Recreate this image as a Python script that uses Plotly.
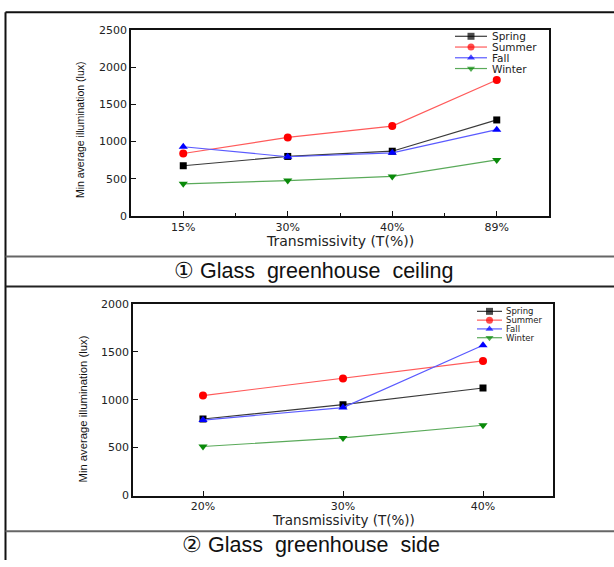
import plotly.graph_objects as go

W, H = 614, 567

# ---------------- data ----------------
seasons = ["Spring", "Summer", "Fall", "Winter"]

ceiling_cats = ["15%", "30%", "40%", "89%"]
ceiling_spring = [676, 801, 871, 1291]
ceiling_summer = [840, 1057, 1209, 1828]
ceiling_fall = [931, 797, 849, 1161]
ceiling_winter = [433, 477, 533, 754]

side_cats = ["20%", "30%", "40%"]
side_spring = [799, 949, 1123]
side_summer = [1044, 1222, 1406]
side_fall = [788, 918, 1570]
side_winter = [512, 601, 734]

y_title = "Min average illumination (lux)"
x_title = "Transmissivity (T(%))"
caption1 = "\u2460 Glass\u00a0 greenhouse\u00a0 ceiling"
caption2 = "\u2461 Glass\u00a0 greenhouse\u00a0 side"

# ---------------- styles ----------------
line_colors = ["#3a3a3a", "#ff5a5a", "#5a5aff", "#5aaa5a"]
marker_colors = ["#000000", "#ff0000", "#0000ff", "#0a8a0a"]
symbols = ["square", "circle", "triangle-up", "triangle-down"]
msizes = [7, 8, 8, 8]

TICKFONT = dict(family="DejaVu Sans", size=11, color="#222222")
NARROW = "Liberation Sans, Arial, sans-serif"


def px(x):
    return x / W


def py(y):
    return 1 - y / H


fig = go.Figure()

ceiling_vals = [ceiling_spring, ceiling_summer, ceiling_fall, ceiling_winter]
side_vals = [side_spring, side_summer, side_fall, side_winter]

for i, s in enumerate(seasons):
    fig.add_trace(go.Scatter(
        x=list(range(len(ceiling_cats))), y=ceiling_vals[i], mode="lines+markers",
        line=dict(color=line_colors[i], width=1.2),
        marker=dict(symbol=symbols[i], size=msizes[i], color=marker_colors[i]),
        xaxis="x", yaxis="y", showlegend=False, name=s))
for i, s in enumerate(seasons):
    fig.add_trace(go.Scatter(
        x=list(range(len(side_cats))), y=side_vals[i], mode="lines+markers",
        line=dict(color=line_colors[i], width=1.2),
        marker=dict(symbol=symbols[i], size=msizes[i], color=marker_colors[i]),
        xaxis="x2", yaxis="y2", showlegend=False, name=s))

# ---------------- manual legends (overlay pixel axes) ----------------
annotations = []
legends = [
    dict(x0=455, x1=487, tx=491, ys=[31, 42, 53, 64], fs=10.5, ms=6),
    dict(x0=477, x1=502, tx=505, ys=[312.5, 321.5, 330.5, 339.5], fs=8.5, ms=6),
]
for lg in legends:
    for i, s in enumerate(seasons):
        y = lg["ys"][i]
        xm = (lg["x0"] + lg["x1"]) / 2
        fig.add_trace(go.Scatter(
            x=[lg["x0"], xm, lg["x1"]], y=[y, y, y], mode="lines+markers",
            line=dict(color=line_colors[i], width=1.2),
            marker=dict(symbol=symbols[i], size=[0, lg["ms"] + 1, 0],
                        color=marker_colors[i], line=dict(width=0)),
            xaxis="x3", yaxis="y3", showlegend=False, hoverinfo="skip"))
        annotations.append(dict(
            text=s, x=px(lg["tx"]), y=py(y), xref="paper", yref="paper",
            xanchor="left", yanchor="middle", showarrow=False, borderpad=0,
            font=dict(family="DejaVu Sans", size=lg["fs"], color="#222222")))

# ---------------- titles / captions ----------------
annotations += [
    dict(text=y_title, x=px(80), y=py(127), textangle=-90,
         font=dict(family=NARROW, size=10.5, color="#111111")),
    dict(text=y_title, x=px(83), y=py(413), textangle=-90,
         font=dict(family=NARROW, size=11.3, color="#111111")),
    dict(text=x_title, x=px(340), y=py(241),
         font=dict(family="DejaVu Sans", size=14, color="#222222")),
    dict(text=x_title, x=px(343), y=py(526.5),
         font=dict(family="DejaVu Sans", size=13.5, color="#222222")),
    dict(text=caption1, x=px(313), y=py(271),
         font=dict(family=NARROW, size=21.5, color="#111111")),
    dict(text=caption2, x=px(311), y=py(552),
         font=dict(family=NARROW, size=21.5, color="#111111")),
]
for a in annotations:
    a.setdefault("xref", "paper")
    a.setdefault("yref", "paper")
    a.setdefault("showarrow", False)
    a.setdefault("xanchor", "center")
    a.setdefault("yanchor", "middle")
    a.setdefault("borderpad", 0)

# ---------------- border lines ----------------
shapes = []


def hline(y, x0, x1, color, w):
    shapes.append(dict(type="line", xref="paper", yref="paper",
                       x0=px(x0), x1=px(x1), y0=py(y), y1=py(y),
                       line=dict(color=color, width=w)))


def vline(x, y0, y1, color, w):
    shapes.append(dict(type="line", xref="paper", yref="paper",
                       x0=px(x), x1=px(x), y0=py(y0), y1=py(y1),
                       line=dict(color=color, width=w)))


hline(6.5, 5.5, W, "#111111", 2)
vline(5.5, 6.5, H, "#111111", 2)
hline(256.5, 5.5, W, "#666666", 2)
hline(287, 5.5, W, "#222222", 2)
hline(537.5, 5.5, W, "#666666", 2)

axis_common = dict(showline=True, linecolor="#111111", linewidth=1.5, mirror=True,
                   ticks="inside", tickcolor="#111111", tickwidth=1.2,
                   showgrid=False, zeroline=False, tickfont=TICKFONT)

fig.update_layout(
    width=W, height=H, margin=dict(l=0, r=0, t=0, b=0),
    paper_bgcolor="white", plot_bgcolor="rgba(0,0,0,0)",
    showlegend=False,
    xaxis=dict(domain=[px(131), px(549)], anchor="y", range=[-0.5, 3.5],
               tickvals=list(range(len(ceiling_cats))), ticktext=ceiling_cats,
               ticklen=5, minor=dict(tickvals=[0.5, 1.5, 2.5], ticks="inside",
                                     ticklen=3, tickcolor="#111111", tickwidth=1.2),
               **axis_common),
    yaxis=dict(domain=[py(215), py(24.5)], anchor="x", range=[0, 2500],
               tickvals=[0, 500, 1000, 1500, 2000, 2500], ticklen=5, **axis_common),
    xaxis2=dict(domain=[px(133), px(553)], anchor="y2", range=[-0.5, 2.5],
                tickvals=list(range(len(side_cats))), ticktext=side_cats,
                ticklen=5, **axis_common),
    yaxis2=dict(domain=[py(501), py(305)], anchor="x2", range=[0, 2000],
                tickvals=[0, 500, 1000, 1500, 2000], ticklen=5, **axis_common),
    xaxis3=dict(domain=[0, 1], anchor="y3", range=[0, W], visible=False, fixedrange=True),
    yaxis3=dict(domain=[0, 1], anchor="x3", range=[H, 0], visible=False, fixedrange=True),
    annotations=annotations,
    shapes=shapes,
)

fig.write_html(
    "out.html",
    config={"displayModeBar": False},
    post_script="document.body.style.margin='0';document.body.style.overflow='hidden';",
)
